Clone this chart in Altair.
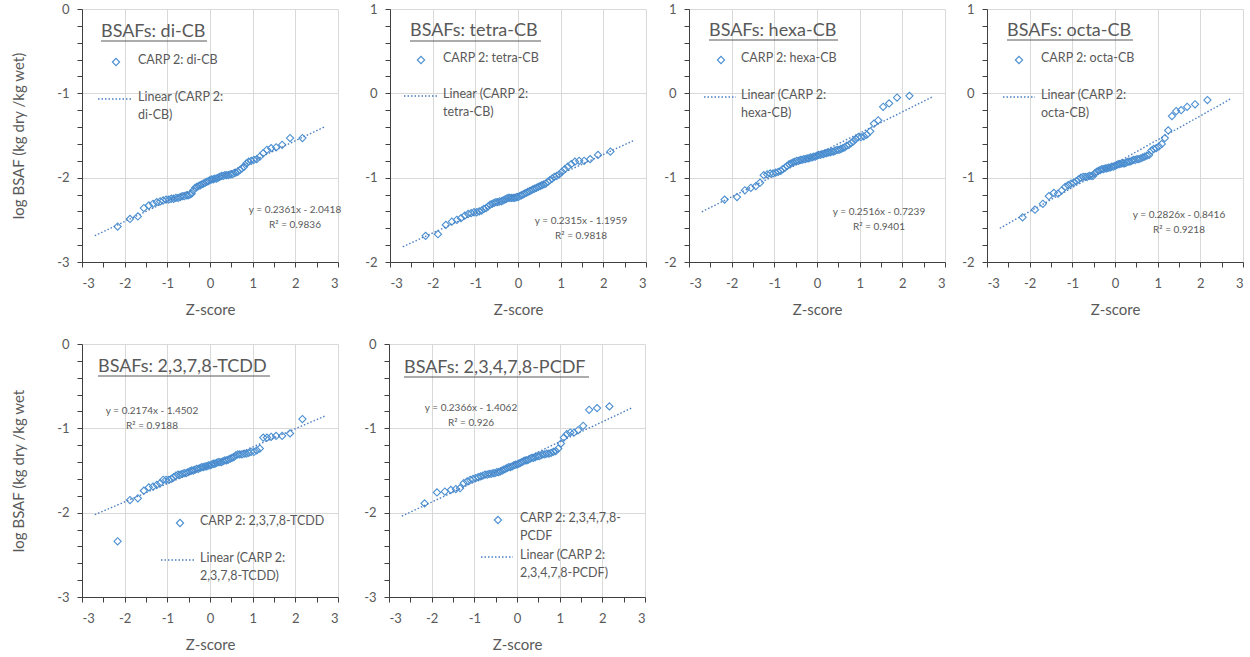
import altair as alt
import pandas as pd

# Shared Z-scores (normal quantiles of the 65 ranked samples)
z_scores = [-2.166, -1.876, -1.691, -1.550, -1.434, -1.335, -1.248, -1.168, -1.097, -1.030,
            -0.967, -0.908, -0.852, -0.799, -0.748, -0.698, -0.651, -0.605, -0.559, -0.516,
            -0.473, -0.431, -0.390, -0.349, -0.309, -0.270, -0.230, -0.191, -0.153, -0.114,
            -0.076, -0.038, 0.000, 0.038, 0.076, 0.114, 0.153, 0.191, 0.230, 0.270,
            0.309, 0.349, 0.390, 0.431, 0.473, 0.516, 0.559, 0.605, 0.651, 0.698,
            0.748, 0.799, 0.852, 0.908, 0.967, 1.030, 1.097, 1.168, 1.248, 1.335,
            1.434, 1.550, 1.691, 1.876, 2.166]

di_cb = [-2.58, -2.49, -2.46, -2.36, -2.33, -2.31, -2.29, -2.28, -2.27, -2.26,
         -2.26, -2.25, -2.25, -2.24, -2.24, -2.23, -2.22, -2.22, -2.21, -2.21,
         -2.20, -2.19, -2.15, -2.12, -2.11, -2.10, -2.09, -2.08, -2.07, -2.06,
         -2.05, -2.04, -2.03, -2.02, -2.02, -2.01, -2.01, -2.00, -1.99, -1.98,
         -1.98, -1.97, -1.97, -1.97, -1.96, -1.96, -1.95, -1.94, -1.93, -1.91,
         -1.89, -1.87, -1.83, -1.81, -1.80, -1.79, -1.78, -1.75, -1.71, -1.67,
         -1.65, -1.64, -1.61, -1.53, -1.53]

tetra_cb = [-1.69, -1.67, -1.56, -1.52, -1.50, -1.48, -1.45, -1.43, -1.42, -1.41,
            -1.41, -1.40, -1.39, -1.37, -1.36, -1.34, -1.32, -1.31, -1.30, -1.29,
            -1.29, -1.28, -1.28, -1.27, -1.26, -1.25, -1.24, -1.24, -1.24, -1.24,
            -1.24, -1.23, -1.23, -1.22, -1.21, -1.20, -1.19, -1.18, -1.17, -1.16,
            -1.15, -1.14, -1.13, -1.12, -1.11, -1.10, -1.09, -1.08, -1.07, -1.05,
            -1.03, -1.01, -0.99, -0.98, -0.96, -0.93, -0.90, -0.87, -0.84, -0.81,
            -0.80, -0.80, -0.78, -0.73, -0.69]

hexa_cb = [-1.26, -1.23, -1.15, -1.12, -1.10, -1.06, -0.97, -0.96, -0.95, -0.95,
           -0.94, -0.93, -0.92, -0.90, -0.88, -0.86, -0.84, -0.83, -0.82, -0.81,
           -0.80, -0.80, -0.79, -0.79, -0.78, -0.78, -0.77, -0.77, -0.76, -0.76,
           -0.75, -0.75, -0.74, -0.73, -0.73, -0.72, -0.72, -0.71, -0.71, -0.70,
           -0.70, -0.69, -0.69, -0.68, -0.67, -0.67, -0.66, -0.65, -0.64, -0.62,
           -0.61, -0.59, -0.57, -0.54, -0.52, -0.52, -0.51, -0.49, -0.45, -0.36,
           -0.32, -0.16, -0.12, -0.05, -0.03]

octa_cb = [-1.47, -1.38, -1.31, -1.22, -1.18, -1.19, -1.15, -1.11, -1.09, -1.07,
           -1.06, -1.04, -1.02, -1.00, -0.99, -0.99, -0.99, -0.98, -0.98, -0.98,
           -0.95, -0.93, -0.92, -0.91, -0.90, -0.90, -0.89, -0.89, -0.88, -0.88,
           -0.87, -0.87, -0.86, -0.85, -0.84, -0.84, -0.83, -0.83, -0.83, -0.82,
           -0.81, -0.81, -0.80, -0.79, -0.79, -0.78, -0.78, -0.77, -0.76, -0.75,
           -0.74, -0.73, -0.68, -0.66, -0.65, -0.63, -0.60, -0.53, -0.44, -0.27,
           -0.21, -0.20, -0.16, -0.13, -0.08]

tcdd = [-2.34, -1.85, -1.83, -1.74, -1.70, -1.69, -1.67, -1.65, -1.61, -1.61,
        -1.61, -1.60, -1.58, -1.56, -1.55, -1.55, -1.54, -1.53, -1.53, -1.52,
        -1.51, -1.50, -1.50, -1.49, -1.48, -1.48, -1.47, -1.46, -1.46, -1.45,
        -1.45, -1.44, -1.44, -1.43, -1.42, -1.42, -1.41, -1.40, -1.40, -1.40,
        -1.39, -1.38, -1.38, -1.37, -1.36, -1.35, -1.34, -1.32, -1.31, -1.31,
        -1.31, -1.30, -1.30, -1.29, -1.28, -1.28, -1.26, -1.24, -1.11, -1.11,
        -1.10, -1.09, -1.09, -1.06, -0.89]

pcdf = [-1.89, -1.76, -1.75, -1.73, -1.72, -1.71, -1.65, -1.63, -1.61, -1.60,
        -1.59, -1.58, -1.57, -1.56, -1.55, -1.55, -1.54, -1.54, -1.53, -1.53,
        -1.52, -1.52, -1.51, -1.50, -1.49, -1.48, -1.47, -1.46, -1.46, -1.45,
        -1.44, -1.43, -1.43, -1.42, -1.41, -1.40, -1.39, -1.38, -1.38, -1.37,
        -1.36, -1.35, -1.35, -1.34, -1.33, -1.33, -1.32, -1.31, -1.31, -1.30,
        -1.30, -1.29, -1.28, -1.27, -1.24, -1.18, -1.11, -1.07, -1.05, -1.05,
        -1.02, -0.97, -0.78, -0.76, -0.74]

titles = ["BSAFs: di-CB", "BSAFs: tetra-CB", "BSAFs: hexa-CB", "BSAFs: octa-CB",
          "BSAFs: 2,3,7,8-TCDD", "BSAFs: 2,3,4,7,8-PCDF"]
series_names = ["CARP 2: di-CB", "CARP 2: tetra-CB", "CARP 2: hexa-CB", "CARP 2: octa-CB",
                "CARP 2: 2,3,7,8-TCDD", "CARP 2: 2,3,4,7,8-\nPCDF"]
trend_names = ["Linear (CARP 2:\ndi-CB)", "Linear (CARP 2:\ntetra-CB)", "Linear (CARP 2:\nhexa-CB)",
               "Linear (CARP 2:\nocta-CB)", "Linear (CARP 2:\n2,3,7,8-TCDD)",
               "Linear (CARP 2:\n2,3,4,7,8-PCDF)"]
equations = ["y = 0.2361x - 2.0418", "y = 0.2315x - 1.1959", "y = 0.2516x - 0.7239",
             "y = 0.2826x - 0.8416", "y = 0.2174x - 1.4502", "y = 0.2366x - 1.4062"]
r_squared = ["R\u00b2 = 0.9836", "R\u00b2 = 0.9818", "R\u00b2 = 0.9401",
             "R\u00b2 = 0.9218", "R\u00b2 = 0.9188", "R\u00b2 = 0.926"]
y_domains = [[-3, 0], [-2, 1], [-2, 1], [-2, 1], [-3, 0], [-3, 0]]
y_titles = ["log BSAF (kg dry /kg wet)", None, None, None, "log  BSAF (kg dry /kg wet", None]
series = [di_cb, tetra_cb, hexa_cb, octa_cb, tcdd, pcdf]

# layout of in-plot annotations (pixel offsets inside each plot area)
layout = [
    dict(tx=19, ty=23, ux2=125, uy=32, dx=34, dy=53, lx1=16, lx2=51, ly=90, txt=56, ex=213, ey=201, ext=26),
    dict(tx=20, ty=22, ux2=151, uy=32, dx=31, dy=51, lx1=14, lx2=47, ly=87, txt=53, ex=191, ey=212, ext=38),
    dict(tx=20, ty=22, ux2=149, uy=31, dx=32, dy=51, lx1=15, lx2=47, ly=88, txt=52, ex=190, ey=203, ext=32),
    dict(tx=20, ty=22, ux2=146, uy=31, dx=32, dy=51, lx1=16, lx2=48, ly=88, txt=54, ex=192, ey=206, ext=31),
    dict(tx=16, ty=23, ux2=188, uy=32, dx=98, dy=179, lx1=79, lx2=114, ly=216, txt=118, ex=70, ey=67, ext=26),
    dict(tx=15, ty=24, ux2=200, uy=33, dx=109, dy=176, lx1=92, lx2=124, ly=213, txt=131, ex=82, ey=64, ext=40),
]

FONT = "Lato"
TXT = "#595959"
BLUE = "#4A8ED0"
LINEBLUE = "#4A7FC1"

one = pd.DataFrame({"k": [0]})
near_int = "abs(datum.value - round(datum.value)) < 0.01"


def panel(i):
    df = pd.DataFrame({"z": z_scores, "y": series[i]})
    lo, hi = y_domains[i]
    yvals = [round(lo + 0.2 * k, 1) for k in range(16)]
    xvals = [round(-3 + 0.5 * k, 1) for k in range(13)]
    L = layout[i]

    yaxis_kw = dict(
        values=yvals, tickCount=40,
        labelExpr=f"{near_int} ? toString(round(datum.value)) : ''",
        gridOpacity={"condition": {"test": f"!({near_int})", "value": 0}, "value": 1},
        minExtent=L["ext"],
        labelOverlap=False,
        labelPadding=8,
    )
    yaxis_kw["title"] = y_titles[i]

    x_enc = alt.X("z:Q", scale=alt.Scale(domain=[-3, 3], nice=False, zero=False),
                  axis=alt.Axis(values=xvals, tickCount=40, title="Z-score", labelOverlap=False,
                                labelPadding=10,
                                labelExpr=f"{near_int} ? toString(round(datum.value)) : ''",
                                gridOpacity={"condition": {"test": f"!({near_int})", "value": 0},
                                             "value": 1}))
    y_enc = alt.Y("y:Q", scale=alt.Scale(domain=[lo, hi], nice=False, zero=False),
                  axis=alt.Axis(**yaxis_kw))

    pts = alt.Chart(df).mark_point(shape="diamond", filled=False, size=52, strokeWidth=1.1,
                                   color=BLUE, opacity=1).encode(x=x_enc, y=y_enc)
    trend = alt.Chart(df).transform_regression("z", "y", extent=[-2.7, 2.7]).mark_line(
        color=LINEBLUE, strokeDash=[1.5, 2], strokeWidth=1.4).encode(x=x_enc, y=y_enc)

    def txt(x, y, s, size, align="left", lh=17):
        return alt.Chart(one).mark_text(align=align, baseline="middle", font=FONT, fontSize=size,
                                        color=TXT, lineBreak="\n", lineHeight=lh).encode(
            x=alt.value(x), y=alt.value(y), text=alt.value(s))

    title = txt(L["tx"], L["ty"], titles[i], 18)
    underline = alt.Chart(one).mark_rule(color=TXT, strokeWidth=1).encode(
        x=alt.value(L["tx"]), x2=alt.value(L["ux2"]), y=alt.value(L["uy"]))
    leg_pt = alt.Chart(one).mark_point(shape="diamond", filled=False, size=52, strokeWidth=1.1,
                                       color=BLUE, opacity=1).encode(
        x=alt.value(L["dx"]), y=alt.value(L["dy"]))
    leg_txt1 = alt.Chart(one).mark_text(align="left", baseline="top", font=FONT, fontSize=12.5,
                                        color=TXT, lineBreak="\n", lineHeight=18).encode(
        x=alt.value(L["txt"]), y=alt.value(L["dy"] - 8), text=alt.value(series_names[i]))
    leg_line = alt.Chart(one).mark_rule(color=LINEBLUE, strokeDash=[1.5, 2], strokeWidth=1.4).encode(
        x=alt.value(L["lx1"]), x2=alt.value(L["lx2"]), y=alt.value(L["ly"]))
    leg_txt2 = alt.Chart(one).mark_text(align="left", baseline="top", font=FONT, fontSize=12.5,
                                        color=TXT, lineBreak="\n", lineHeight=18).encode(
        x=alt.value(L["txt"]), y=alt.value(L["ly"] - 8), text=alt.value(trend_names[i]))
    eq = txt(L["ex"], L["ey"], equations[i], 10, align="center")
    r2 = txt(L["ex"], L["ey"] + 15, r_squared[i], 10, align="center")

    return alt.layer(pts, trend, title, underline, leg_pt, leg_txt1, leg_line, leg_txt2, eq, r2).properties(
        width=256, height=253)


top = alt.hconcat(panel(0), panel(1), panel(2), panel(3), spacing=10)
bottom = alt.hconcat(panel(4), panel(5), spacing=10)
chart = alt.vconcat(top, bottom, spacing=21).properties(
    padding={"left": 11, "top": 3, "right": 0, "bottom": 5}, background="white"
).configure_view(stroke=None).configure_axis(
    labelFont=FONT, labelFontSize=13, labelColor=TXT,
    titleFont=FONT, titleFontSize=15, titleColor=TXT, titleFontWeight="normal",
    gridColor="#D9D9D9", gridWidth=1,
    domainColor="#404040", domainWidth=1, tickColor="#404040", tickSize=5, tickWidth=1,
).configure_axisY(titlePadding=30).configure_axisX(titlePadding=12)

chart.save("out.html", embed_options={"renderer": "svg", "actions": False})
